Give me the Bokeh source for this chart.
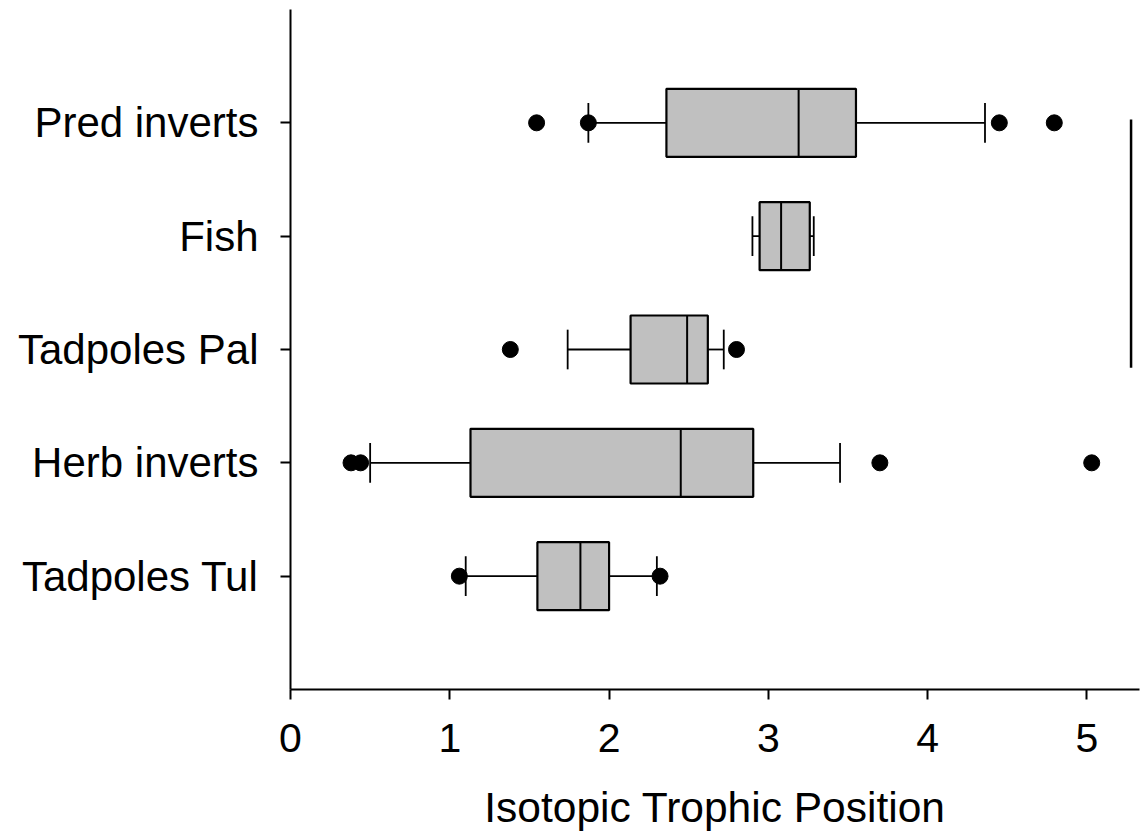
from bokeh.plotting import figure
from bokeh.models import Range1d, FixedTicker, ColumnDataSource
from bokeh.embed import file_html
from bokeh.resources import INLINE

# ---- data ----
categories = ["Tadpoles Tul", "Herb inverts", "Tadpoles Pal", "Fish", "Pred inverts"]
q1 = [1.55, 1.13, 2.135, 2.945, 2.36]
median = [1.82, 2.45, 2.49, 3.08, 3.19]
q3 = [2.00, 2.905, 2.62, 3.26, 3.55]
lower_whisker = [1.10, 0.50, 1.74, 2.90, 1.87]
upper_whisker = [2.30, 3.45, 2.72, 3.285, 4.36]
outliers = {
    "Tadpoles Tul": [1.06, 2.32],
    "Herb inverts": [0.38, 0.44, 3.70, 5.03],
    "Tadpoles Pal": [1.38, 2.80],
    "Fish": [],
    "Pred inverts": [1.545, 1.87, 4.45, 4.795],
}
x_ticks = [0, 1, 2, 3, 4, 5]
stray_x = 5.277
stray_y = [2.84, 5.03]

FONT = "Liberation Sans"
pos = [i + 1 for i in range(len(categories))]
box_h = 0.6
cap_h = 0.35

p = figure(width=1142, height=838, output_backend="svg", toolbar_location=None,
           x_range=Range1d(0, 5.33), y_range=Range1d(0, 6),
           min_border_left=290, min_border_right=3, min_border_top=9,
           min_border_bottom=149)
p.outline_line_color = None
p.xgrid.visible = False
p.ygrid.visible = False
p.background_fill_color = "white"
p.border_fill_color = "white"

src = ColumnDataSource(dict(y=pos, q1=q1, q3=q3, med=median, lw=lower_whisker, uw=upper_whisker))

# whiskers
p.segment(x0="lw", y0="y", x1="q1", y1="y", source=src, line_color="black", line_width=1.8)
p.segment(x0="q3", y0="y", x1="uw", y1="y", source=src, line_color="black", line_width=1.8)
# caps
cap_src = ColumnDataSource(dict(
    x=lower_whisker + upper_whisker,
    y0=[y - cap_h / 2 for y in pos] * 2,
    y1=[y + cap_h / 2 for y in pos] * 2))
p.segment(x0="x", y0="y0", x1="x", y1="y1", source=cap_src, line_color="black", line_width=1.8)
# boxes
p.hbar(y="y", left="q1", right="q3", height=box_h, source=src,
       fill_color="#c0c0c0", line_color="black", line_width=2.2)
# medians
med_src = ColumnDataSource(dict(x=median, y0=[y - box_h / 2 for y in pos], y1=[y + box_h / 2 for y in pos]))
p.segment(x0="x", y0="y0", x1="x", y1="y1", source=med_src, line_color="black", line_width=2)
# outliers
ox, oy = [], []
for c, y in zip(categories, pos):
    for v in outliers[c]:
        ox.append(v)
        oy.append(y)
p.scatter(ox, oy, size=16, fill_color="black", line_color="black")
# stray vertical line present in the reference
p.segment(x0=[stray_x], y0=[stray_y[0]], x1=[stray_x], y1=[stray_y[1]], line_color="black", line_width=2.5)

# axes
for ax in (p.xaxis[0], p.yaxis[0]):
    ax.axis_line_width = 2
    ax.axis_line_color = "black"
    ax.major_tick_line_width = 2
    ax.major_tick_line_color = "black"
    ax.major_tick_out = 10
    ax.major_tick_in = 0
    ax.minor_tick_line_color = None
    ax.major_label_text_font = FONT
    ax.major_label_text_color = "black"
    ax.axis_label_text_font = FONT
    ax.axis_label_text_font_style = "normal"
    ax.axis_label_text_color = "black"

p.xaxis.ticker = FixedTicker(ticks=x_ticks)
p.xaxis.major_label_text_font_size = "41px"
p.xaxis.major_label_standoff = 24
p.xaxis.axis_label = "Isotopic Trophic Position"
p.xaxis.axis_label_text_font_size = "42.5px"
p.xaxis.axis_label_standoff = 29

p.yaxis.ticker = FixedTicker(ticks=pos)
p.yaxis.major_label_overrides = {y: c for y, c in zip(pos, categories)}
p.yaxis.major_label_text_font_size = "42px"
p.yaxis.major_label_standoff = 22

open("out.html", "w").write(file_html(p, INLINE))
